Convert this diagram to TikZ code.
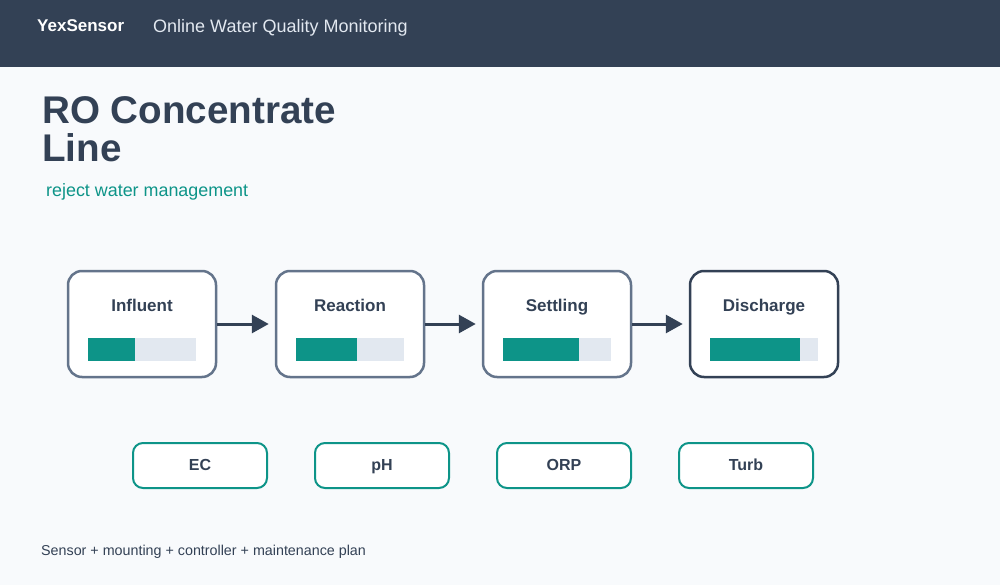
\documentclass[tikz,border=0pt]{standalone}
\usepackage{fontspec}
\setmainfont{Liberation Sans}
\usetikzlibrary{arrows.meta}
\definecolor{slate}{HTML}{334155}
\definecolor{slatemid}{HTML}{64748B}
\definecolor{bgc}{HTML}{F8FAFC}
\definecolor{teal}{HTML}{0D9488}
\definecolor{barbg}{HTML}{E2E8F0}
\definecolor{hdrtext}{HTML}{E2E8F0}
\tikzset{
  stage/.style={draw=slatemid, line width=2.5pt, fill=white, rounded corners=14pt, minimum width=148pt, minimum height=106pt, inner sep=0pt},
  stagelast/.style={stage, draw=slate},
  stagelabel/.style={anchor=base, text=slate, font=\fontsize{17}{20}\selectfont\bfseries},
  sensorbox/.style={draw=teal, line width=2pt, fill=white, rounded corners=10pt, minimum width=134pt, minimum height=45pt, inner sep=0pt},
  sensorlabel/.style={anchor=base, text=slate, font=\fontsize{16}{19}\selectfont\bfseries},
  flow/.style={draw=slate, line width=3pt, -{Triangle[length=17pt,width=18pt]}, shorten >=6pt},
}
\begin{document}
\begin{tikzpicture}[x=1pt,y=-1pt]
\useasboundingbox (0,0) rectangle (1000,585);
\fill[bgc] (0,0) rectangle (1000,585);
\fill[slate] (0,0) rectangle (1000,67);
\node[anchor=base west, inner sep=0pt, text=white, font=\fontsize{17}{20}\selectfont\bfseries] (brand) at (37,32) {YexSensor};
\node[anchor=base west, inner sep=0pt, text=hdrtext, font=\fontsize{18}{22}\selectfont] (hdr) at (153,33) {Online Water Quality Monitoring};
\node[anchor=base west, inner sep=0pt, text=slate, font=\fontsize{38.6}{45}\selectfont\bfseries] (t1) at (42,124) {RO Concentrate};
\node[anchor=base west, inner sep=0pt, text=slate, font=\fontsize{38.6}{45}\selectfont\bfseries] (t2) at (42,162) {Line};
\node[anchor=base west, inner sep=0pt, text=teal, font=\fontsize{17.9}{21}\selectfont] (sub) at (46,197) {reject water management};

\foreach \n/\x/\lab/\f/\sty in {s1/142/Influent/47/stage, s2/350/Reaction/61/stage, s3/557/Settling/76/stage, s4/764/Discharge/90/stagelast}{
  \node[\sty] (\n) at (\x,324) {};
  \node[stagelabel] (\n l) at (\x,311) {\lab};
  \fill[barbg] (\x-54,338) rectangle (\x+54,361);
  \fill[teal] (\x-54,338) rectangle (\x-54+\f,361);
}
\draw[flow] (s1.east) -- (s2.west);
\draw[flow] (s2.east) -- (s3.west);
\draw[flow] (s3.east) -- (s4.west);

\foreach \n/\x/\lab in {e1/200/EC, e2/382/pH, e3/564/ORP, e4/746/Turb}{
  \node[sensorbox] (\n) at (\x,465.5) {};
  \node[sensorlabel] (\n l) at (\x,470) {\lab};
}
\node[anchor=base west, inner sep=0pt, text=slate, font=\fontsize{14.3}{17}\selectfont] (foot) at (41,555) {Sensor + mounting + controller + maintenance plan};
\end{tikzpicture}
\end{document}
